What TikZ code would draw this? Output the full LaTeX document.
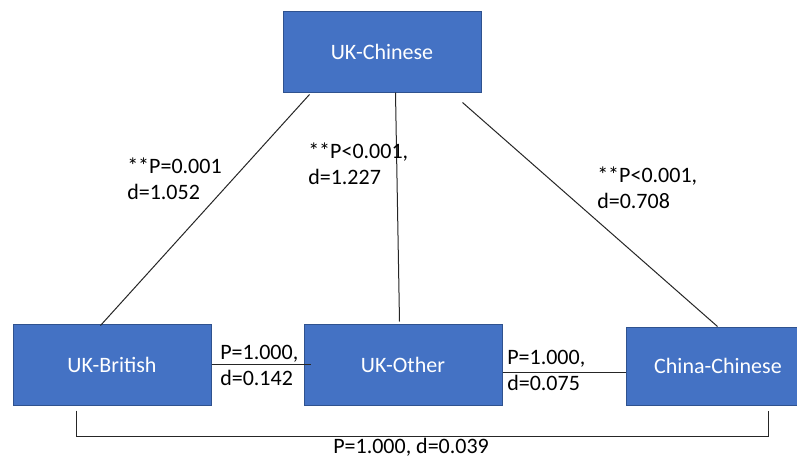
\documentclass[tikz,border=0pt]{standalone}
\usepackage{fontspec}
\setmainfont{Carlito}
\usetikzlibrary{calc}
\definecolor{boxblue}{HTML}{4472C4}
\definecolor{boxedge}{HTML}{2F528F}

\begin{document}
\begin{tikzpicture}[x=0.75pt,y=-0.75pt,
  grp/.style={draw=boxedge, line width=0.75pt, fill=boxblue, text=white,
    minimum width=148.5pt, minimum height=60.75pt, inner sep=0pt,
    font=\fontsize{16.5}{19.5}\selectfont},
  lbl/.style={anchor=west, align=left, inner sep=0pt,
    font=\fontsize{16.5}{19.5}\selectfont},
  link/.style={draw=black!85, line width=0.75pt}]
\fill[white] (0,0) rectangle (797,457);
\useasboundingbox (0,0) rectangle (797,457);

% group boxes
\node[grp] (ukc) at (382,51.5) {UK-Chinese};
\node[grp] (ukb) at (112,364.5) {UK-British};
\node[grp] (uko) at (403,364.5) {UK-Other};
\node[grp, minimum width=138pt, minimum height=58.5pt] (cc) at (718,366) {China-Chinese};

% pairwise comparisons
\draw[link] ($(ukc.south west)+(27,2)$) -- ($(ukb.north west)+(88,2)$);
\draw[link] ($(ukc.south west)+(113,0)$) -- ($(uko.north west)+(96,-2)$);
\draw[link] ($(ukc.south west)+(180,10)$) -- ($(cc.north west)+(92,0)$);
\draw[link] (ukb.east) -- ($(uko.west)+(7,0)$);
\draw[link] ($(uko.east)+(0,7.5)$) -- ($(cc.west)+(0,6)$);
\draw[link] ($(ukb.south west)+(64,5)$) -- ++(0,26) -| ($(cc.south west)+(143,5)$);

% statistics
\node[lbl] (l1) at (127,179) {**P=0.001\\d=1.052};
\node[lbl] (l2) at (308,163.5) {**P<0.001,\\d=1.227};
\node[lbl] (l3) at (597,187.5) {**P<0.001,\\d=0.708};
\node[lbl] (l4) at (220,365.5) {P=1.000,\\d=0.142};
\node[lbl] (l5) at (507,370.5) {P=1.000,\\d=0.075};
\node[lbl] (l6) at (333,447) {P=1.000, d=0.039};
\end{tikzpicture}
\end{document}
